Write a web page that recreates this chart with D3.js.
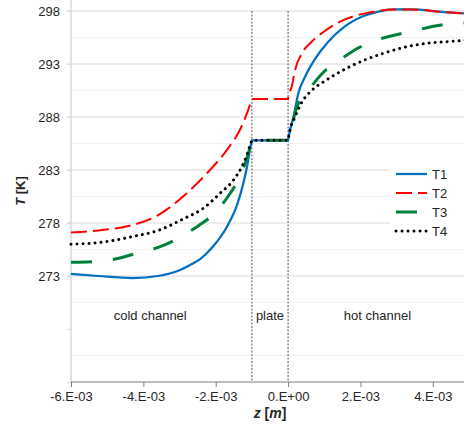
<!DOCTYPE html>
<html>
<head>
<meta charset="utf-8">
<script src="https://cdn.jsdelivr.net/npm/d3@7"></script>
<style>
    body { margin: 0; background: #fff; }
    text { font-family: "Liberation Sans", Arial, sans-serif; fill: #262626; }
</style>
</head>
<body>
<svg id="chart"></svg>
<script>
// z positions in mm, temperatures in K
var seriesNames = ["T1", "T2", "T3", "T4"];
var t1Z = [-6.0, -5.25, -4.3, -3.6, -3.0, -2.62, -2.43, -2.07, -1.69, -1.41, -1.24, -1.13, -1.05, -1.0,
    0, 0.05, 0.15, 0.28, 0.47, 0.75, 1.11, 1.55, 2.07, 2.5, 2.9, 3.4, 4.3, 5.0];
var t1T = [273.2, 273.0, 272.8, 273.0, 273.55, 274.2, 274.6, 275.8, 277.65, 279.7, 281.7, 283.4, 285.0, 285.8,
    285.8, 286.7, 288.0, 290.2, 291.8, 293.5, 295.1, 296.5, 297.5, 297.95, 298.15, 298.15, 297.9, 297.75];
var t2Z = [-6.0, -5.25, -4.31, -3.59, -3.26, -2.71, -2.16, -1.69, -1.33, -1.1, -1.0,
    0, 0.02, 0.1, 0.19, 0.38, 0.65, 0.93, 1.44, 1.9, 2.4, 2.9, 3.4, 4.3, 5.0];
var t2T = [277.1, 277.3, 277.8, 278.75, 279.5, 281.1, 283.0, 284.9, 286.8, 288.7, 289.7,
    289.7, 290.1, 290.85, 292.4, 294.0, 295.1, 295.9, 297.0, 297.6, 297.95, 298.15, 298.15, 297.9, 297.75];
var t3Z = [-6.0, -5.42, -4.78, -4.23, -3.59, -3.07, -2.52, -2.07, -1.66, -1.38, -1.14, -1.0,
    0, 0.1, 0.24, 0.56, 0.97, 1.44, 1.99, 2.54, 3.37, 4.28, 5.0];
var t3T = [274.3, 274.35, 274.6, 275.1, 275.7, 276.5, 277.65, 278.8, 280.5, 282.05, 284.1, 285.8,
    285.8, 287.2, 288.9, 290.5, 292.2, 293.4, 294.6, 295.35, 296.05, 296.7, 296.9];
var t4Z = [-6.0, -5.25, -4.32, -3.59, -2.89, -2.34, -1.88, -1.51, -1.28, -1.14, -1.05, -1.0,
    0, 0.055, 0.19, 0.38, 0.65, 1.02, 1.48, 2.13, 2.63, 3.18, 3.83, 4.38, 5.0];
var t4T = [276.0, 276.15, 276.7, 277.3, 278.4, 279.4, 280.8, 282.05, 283.3, 284.4, 285.35, 285.8,
    285.8, 286.8, 288.0, 289.4, 290.5, 291.4, 292.35, 293.4, 294.0, 294.55, 294.95, 295.1, 295.25];
var plateEdges = [-1.0, 0];
var regionLabels = ["cold channel", "plate", "hot channel"];
var xTicks = [-6, -4, -2, 0, 2, 4];
var yTicks = [263, 268, 273, 278, 283, 288, 293, 298];
var yLabelTicks = [273, 278, 283, 288, 293, 298];
var yMinorGrid = [265.5, 270.5, 275.5, 280.5, 285.5, 290.5, 295.5];

var w = 464;
var h = 428;
let svg = d3.select("#chart")
    .attr("width", w)
    .attr("height", h);

let xScale = d3.scaleLinear().domain([-6e-3, 5e-3]).range([71, 469]);
let yScale = d3.scaleLinear().domain([263, 299]).range([382, 0.4]);

//grid
svg.append("g").selectAll("line")
    .data(yMinorGrid).join("line")
    .attr("x1", xScale(-6e-3)).attr("x2", w)
    .attr("y1", d => yScale(d)).attr("y2", d => yScale(d))
    .attr("stroke", "#f0f0f0").attr("stroke-width", 1);
svg.append("g").selectAll("line")
    .data(yLabelTicks).join("line")
    .attr("x1", xScale(-6e-3) - 4).attr("x2", w)
    .attr("y1", d => yScale(d)).attr("y2", d => yScale(d))
    .attr("stroke", "#d9d9d9").attr("stroke-width", 1);

//y axis
let yAxis = d3.axisLeft(yScale)
    .tickValues(yTicks)
    .tickSize(4)
    .tickFormat(d => yLabelTicks.includes(d) ? d : "");
let gy = svg.append("g")
    .attr("transform", `translate(${xScale(-6e-3)}, 0)`)
    .call(yAxis);
gy.select(".domain").attr("stroke", "#d9d9d9").attr("stroke-width", 1.5)
    .attr("d", `M0,0V${yScale(263)}`);
gy.selectAll(".tick line").attr("stroke", "#d9d9d9");
gy.selectAll(".tick text").attr("x", -11).style("font-size", "13px").style("fill", "#262626");

//x axis
let xAxis = d3.axisBottom(xScale)
    .tickValues(xTicks.map(d => d * 1e-3))
    .tickSize(5)
    .tickFormat(d => {
        let v = Math.round(d * 1e3);
        return v == 0 ? "0.E+00" : v + ".E-03";
    });
let gx = svg.append("g")
    .attr("transform", `translate(0, ${yScale(263)})`)
    .call(xAxis);
gx.select(".domain").attr("stroke", "#7f7f7f").attr("stroke-width", 1.2)
    .attr("d", `M${xScale(-6e-3)},0H${w}`);
gx.selectAll(".tick line").attr("stroke", "#7f7f7f");
gx.selectAll(".tick text").attr("y", 10).style("font-size", "13px").style("fill", "#262626");

//plate boundaries
svg.append("g").selectAll("line")
    .data(plateEdges).join("line")
    .attr("x1", d => xScale(d * 1e-3)).attr("x2", d => xScale(d * 1e-3))
    .attr("y1", yScale(298)).attr("y2", yScale(263))
    .attr("stroke", "#555").attr("stroke-width", 1)
    .attr("stroke-dasharray", "2,1.5");

//series
let styles = [
    { color: "#0070c0", width: 2.25, dash: null, cap: "butt" },
    { color: "#ff0000", width: 2, dash: "16,6", cap: "butt" },
    { color: "#00803a", width: 3, dash: "21,21", cap: "butt" },
    { color: "#000000", width: 3, dash: "0.01,6", cap: "round" }
];
let allZ = [t1Z, t2Z, t3Z, t4Z];
let allT = [t1T, t2T, t3T, t4T];

let curve = d3.line()
    .x(d => xScale(d.z * 1e-3))
    .y(d => yScale(d.t))
    .curve(d3.curveMonotoneX);
let straight = d3.line()
    .x(d => xScale(d.z * 1e-3))
    .y(d => yScale(d.t));

function seriesPath(zs, ts) {
    let pts = zs.map((z, i) => ({ z: z, t: ts[i] }));
    let cold = pts.filter(d => d.z <= plateEdges[0]);
    let plate = pts.filter(d => d.z >= plateEdges[0] && d.z <= plateEdges[1]);
    let hot = pts.filter(d => d.z >= plateEdges[1]);
    // join the three pieces into one continuous path
    return curve(cold) + straight(plate).replace(/^M/, "L") + curve(hot).replace(/^M/, "L");
}

seriesNames.forEach((name, i) => {
    svg.append("path")
        .attr("d", seriesPath(allZ[i], allT[i]))
        .attr("fill", "none")
        .attr("stroke", styles[i].color)
        .attr("stroke-width", styles[i].width)
        .attr("stroke-dasharray", styles[i].dash)
        .attr("stroke-linecap", styles[i].cap);
});

//region labels
let labelY = yScale(268.85);
let labelX = [xScale(-3.81e-3), xScale(-0.5e-3), xScale(2.47e-3)];
svg.append("g").selectAll("text")
    .data(regionLabels).join("text")
    .attr("x", (d, i) => labelX[i])
    .attr("y", labelY)
    .attr("text-anchor", "middle")
    .style("font-size", "13px")
    .text(d => d);

//legend
let legend = svg.append("g");
legend.append("rect")
    .attr("x", 390).attr("y", 160)
    .attr("width", 80).attr("height", 82)
    .attr("fill", "#fff");
seriesNames.forEach((name, i) => {
    let ly = 174 + i * 19;
    legend.append("line")
        .attr("x1", 396).attr("x2", 427)
        .attr("y1", ly).attr("y2", ly)
        .attr("stroke", styles[i].color)
        .attr("stroke-width", styles[i].width)
        .attr("stroke-dasharray", styles[i].dash)
        .attr("stroke-linecap", styles[i].cap);
    legend.append("text")
        .attr("x", 432).attr("y", ly)
        .attr("dy", "0.35em")
        .style("font-size", "13px")
        .text(name);
});

//axis titles
let yTitle = svg.append("text")
    .attr("transform", "translate(25, 191) rotate(-90)")
    .attr("text-anchor", "middle")
    .style("font-size", "13px")
    .style("font-weight", "bold");
yTitle.append("tspan").style("font-style", "italic").text("T");
yTitle.append("tspan").text(" [K]");

let xTitle = svg.append("text")
    .attr("x", 270).attr("y", 418)
    .attr("text-anchor", "middle")
    .style("font-size", "14px")
    .style("font-weight", "bold");
xTitle.append("tspan").style("font-style", "italic").text("z");
xTitle.append("tspan").text(" [");
xTitle.append("tspan").style("font-style", "italic").text("m");
xTitle.append("tspan").text("]");
</script>
</body>
</html>
